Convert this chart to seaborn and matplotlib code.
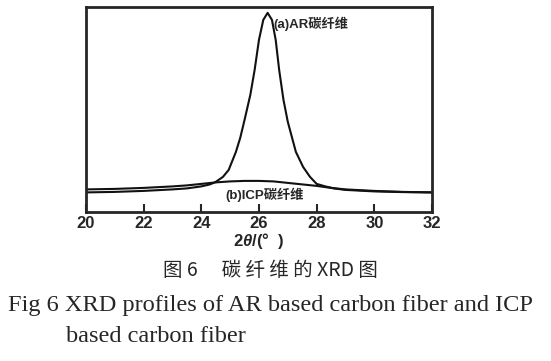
import matplotlib
matplotlib.use("Agg")
import matplotlib.pyplot as plt
import pandas as pd
import seaborn as sns

# 2theta (deg) and relative intensity
ar_two_theta = [20.0, 21.0, 22.0, 23.0, 23.5, 24.0, 24.3, 24.5, 24.75, 24.95,
                25.2, 25.35, 25.5, 25.7, 25.85, 26.0, 26.15, 26.3, 26.45, 26.58,
                26.7, 26.85, 27.0, 27.28, 27.53, 27.77, 28.0, 28.3, 28.6, 29.0,
                30.0, 31.0, 32.0]
ar_intensity = [19.5, 20, 21, 22.5, 23.5, 25.5, 27.5, 30, 35, 42,
                60, 74, 92, 117, 142, 172, 192, 199, 192, 172,
                142, 112, 90, 60, 45, 35, 28, 25.5, 23.5, 22,
                20.5, 19.8, 19.5]

icp_two_theta = [20.0, 21.0, 22.0, 23.0, 23.5, 24.0, 24.5, 25.0, 25.5, 26.0,
                 26.5, 27.0, 27.5, 28.0, 28.5, 29.0, 30.0, 31.0, 32.0]
icp_intensity = [22.5, 23, 24, 25.5, 26.5, 28, 29.5, 30.5, 31, 31,
                 30.5, 29, 27.5, 26, 24, 22.5, 21, 20, 19.5]

x_ticks = [20, 22, 24, 26, 28, 30, 32]

df = pd.concat([
    pd.DataFrame({"two_theta": ar_two_theta, "intensity": ar_intensity, "sample": "AR"}),
    pd.DataFrame({"two_theta": icp_two_theta, "intensity": icp_intensity, "sample": "ICP"}),
])

sns.set_style("ticks")
plt.rcParams["font.family"] = ["Liberation Sans", "Noto Sans CJK SC"]
plt.rcParams["mathtext.fontset"] = "custom"
plt.rcParams["mathtext.rm"] = "Liberation Sans:bold"
plt.rcParams["mathtext.it"] = "Liberation Sans:italic:bold"

fig = plt.figure(figsize=(5.51, 3.61), dpi=100)
ax = fig.add_axes([0.156, 0.413, 0.628, 0.568])

sns.lineplot(data=df, x="two_theta", y="intensity", units="sample",
             estimator=None, color="#111111", linewidth=1.5, sort=False,
             legend=False, ax=ax)

ax.set_xlim(20, 32)
ax.set_ylim(0, 205)
ax.set_xticks(x_ticks)
ax.set_xticklabels([str(t) for t in x_ticks], fontsize=12, fontweight="bold")
ax.set_yticks([])
ax.tick_params(axis="x", direction="in", length=6, width=1.5, pad=3)
for side in ["left", "right", "top", "bottom"]:
    ax.spines[side].set_visible(True)
    ax.spines[side].set_linewidth(2)
ax.set_xlabel(r"2$\it{\theta}$/(°  )", fontsize=12, fontweight="bold", labelpad=0)
ax.set_ylabel("")

ax.text(26.5, 188, "(a)AR碳纤维", fontsize=9.5, fontweight="bold",
        ha="left", va="center")
ax.text(24.85, 17, "(b)ICP碳纤维", fontsize=9.5, fontweight="bold",
        ha="left", va="center")

fig.text(270 / 551, 1 - 271 / 361, "图 6　 碳 纤 维 的 XRD 图", fontsize=14,
         family=["Noto Sans CJK SC", "DejaVu Sans"], ha="center", va="center")
fig.text(8 / 551, 1 - 305 / 361, "Fig 6 XRD profiles of AR based carbon fiber and ICP",
         fontsize=17.6, family=["Liberation Serif"], ha="left", va="center")
fig.text(66 / 551, 1 - 336 / 361, "based carbon fiber",
         fontsize=17.6, family=["Liberation Serif"], ha="left", va="center")

fig.savefig("out.png", dpi=100)
